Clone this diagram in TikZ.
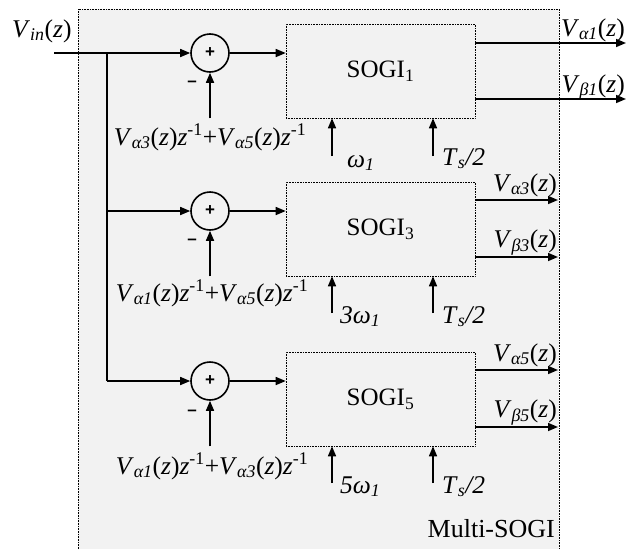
\documentclass[tikz,border=0pt]{standalone}
\usepackage{fontspec}
\setmainfont{Liberation Serif}
\setsansfont{Liberation Sans}
\usetikzlibrary{arrows.meta}
\definecolor{bg}{HTML}{F2F2F2}
\newcommand{\Vs}[1]{\textit{V}\textsubscript{\textit{#1}}(\textit{z})}
\newcommand{\zi}{\textit{z}\textsuperscript{-1}}
\newcommand{\Tsh}{\textit{T}\textsubscript{\textit{s}}\textit{/2}}
\begin{document}
\begin{tikzpicture}[x=1pt,y=-1pt,
  sig/.style={line width=1.6pt,-{Triangle[length=10pt,width=8pt]}},
  sumnode/.style={circle,draw,line width=1.6pt,minimum size=38pt,inner sep=0pt,fill=bg,
    font=\sffamily\bfseries\fontsize{17}{17}\selectfont},
  sogibox/.style={draw,densely dotted,line width=0.6pt,fill=bg,minimum width=189pt,
    minimum height=94pt,inner sep=0pt,font=\fontsize{25}{27}\selectfont},
  lbl/.style={font=\fontsize{25.5}{27}\selectfont,inner sep=0pt},
  minus/.style={font=\sffamily\bfseries\fontsize{17}{17}\selectfont,inner sep=0pt}]
\useasboundingbox (0,0) rectangle (626,549);
\fill[bg] (78,9) rectangle (559,549);
\draw[densely dotted,line width=0.6pt] (78,549) -- (78,9) -- (559,9) -- (559,549);

% sums and blocks
\node[sumnode] (s1) at (210,53) {+};
\node[sumnode] (s2) at (210,211) {+};
\node[sumnode] (s3) at (210,381) {+};
\node[sogibox] (b1) at (380.5,71) {SOGI\textsubscript{1}};
\node[sogibox] (b3) at (380.5,229) {SOGI\textsubscript{3}};
\node[sogibox] (b5) at (380.5,399) {SOGI\textsubscript{5}};

% input
\node[lbl,anchor=base west] (vin) at (12,37) {\textit{V}\textsubscript{\textit{in}}(\textit{z})};
\coordinate (in) at (54,53);
\coordinate (br) at (107,53);
\coordinate (brb) at (107,381);
\draw[sig] (in) -- (s1);
\draw[line width=1.6pt] (br) -- (brb);
\draw[sig] (br |- s2) -- (s2);
\draw[sig] (brb) -- (s3);
\draw[sig] (s1) -- (s1 -| b1.west);
\draw[sig] (s2) -- (s2 -| b3.west);
\draw[sig] (s3) -- (s3 -| b5.west);

% feedback inputs
\draw[sig] (s1 |- b1.south) -- (s1);
\draw[sig] (s2 |- b3.south) -- (s2);
\draw[sig] (s3 |- b5.south) -- (s3);
\node[minus] (m1) at (192,84) {\textendash};
\node[minus] (m2) at (192,242) {\textendash};
\node[minus] (m3) at (192,413) {\textendash};
\node[lbl,anchor=base] (f1) at (210,145) {\Vs{α3}\zi+\Vs{α5}\zi};
\node[lbl,anchor=base] (f2) at (212,301) {\Vs{α1}\zi+\Vs{α5}\zi};
\node[lbl,anchor=base] (f3) at (212,474) {\Vs{α1}\zi+\Vs{α3}\zi};

% outputs
\coordinate (o1a) at (626,43);
\coordinate (o1b) at (626,99);
\coordinate (o3a) at (558,200);
\coordinate (o3b) at (558,257);
\coordinate (o5a) at (558,370);
\coordinate (o5b) at (558,427);
\draw[sig] (b1.east |- o1a) -- (o1a);
\draw[sig] (b1.east |- o1b) -- (o1b);
\draw[sig] (b3.east |- o3a) -- (o3a);
\draw[sig] (b3.east |- o3b) -- (o3b);
\draw[sig] (b5.east |- o5a) -- (o5a);
\draw[sig] (b5.east |- o5b) -- (o5b);
\node[lbl,anchor=base east] (l1a) at (625,36) {\Vs{α1}};
\node[lbl,anchor=base east] (l1b) at (625,92) {\Vs{β1}};
\node[lbl,anchor=base east] (l3a) at (557,191) {\Vs{α3}};
\node[lbl,anchor=base east] (l3b) at (557,247) {\Vs{β3}};
\node[lbl,anchor=base east] (l5a) at (557,361) {\Vs{α5}};
\node[lbl,anchor=base east] (l5b) at (557,417) {\Vs{β5}};

% parameter inputs
\coordinate (w1) at (332,156);
\coordinate (t1) at (433,156);
\coordinate (w3) at (332,313);
\coordinate (t3) at (433,313);
\coordinate (w5) at (332,483);
\coordinate (t5) at (433,483);
\draw[sig] (w1) -- (w1 |- b1.south);
\draw[sig] (t1) -- (t1 |- b1.south);
\draw[sig] (w3) -- (w3 |- b3.south);
\draw[sig] (t3) -- (t3 |- b3.south);
\draw[sig] (w5) -- (w5 |- b5.south);
\draw[sig] (t5) -- (t5 |- b5.south);
\node[lbl,anchor=base west] (lw1) at (347,167) {\textit{ω}\textsubscript{\textit{1}}};
\node[lbl,anchor=base west] (lt1) at (442,165) {\Tsh};
\node[lbl,anchor=base west] (lw3) at (340,323) {\textit{3ω}\textsubscript{\textit{1}}};
\node[lbl,anchor=base west] (lt3) at (442,323) {\Tsh};
\node[lbl,anchor=base west] (lw5) at (340,493) {\textit{5ω}\textsubscript{\textit{1}}};
\node[lbl,anchor=base west] (lt5) at (442,493) {\Tsh};
\node[lbl,anchor=base east,font=\fontsize{26}{28}\selectfont] (ms) at (555,537) {Multi-SOGI};
\end{tikzpicture}
\end{document}
